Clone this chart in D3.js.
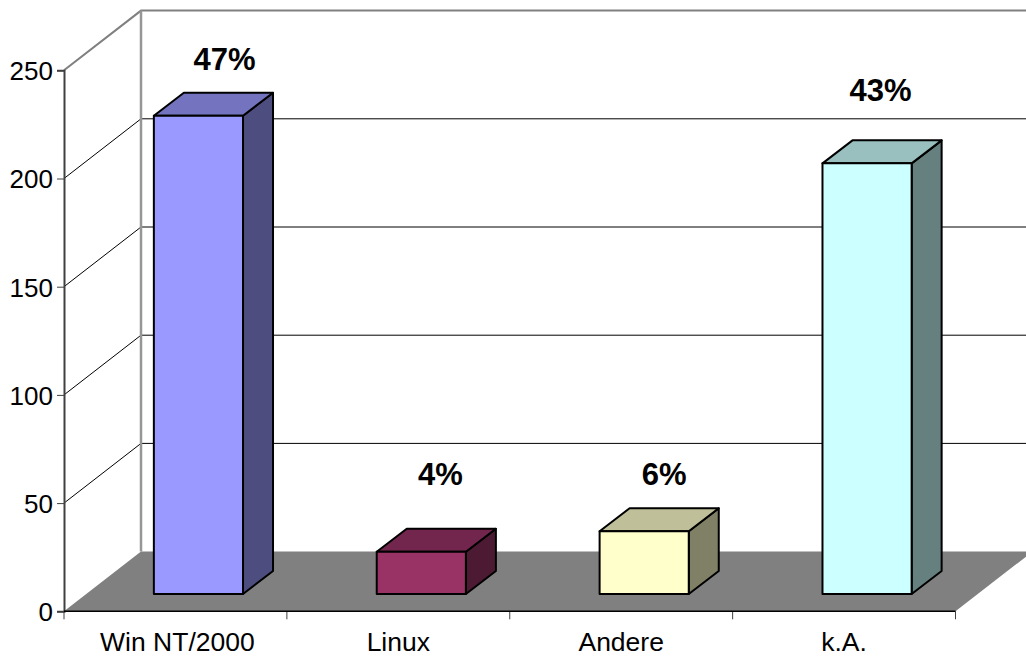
<!DOCTYPE html>
<html><head><meta charset="utf-8">
<script src="https://cdn.jsdelivr.net/npm/d3@7"></script>
<style>html,body{margin:0;padding:0;background:#fff}svg{display:block}text{font-family:"Liberation Sans",Arial,sans-serif;fill:#000}</style>
</head><body><svg id="c" width="1026" height="657"></svg>
<script>
const categories = ["Win NT/2000","Linux","Andere","k.A."];
const values = [221,19.5,29,199];
const percentLabels = ["47%","4%","6%","43%"];
const yTicks = [0,50,100,150,200,250];

const frontColors = ["#9999ff","#993366","#ffffcc","#ccffff"];
const topColors = ["#7373bf","#73264d","#bfbf99","#99bfbf"];
const sideColors = ["#4d4d80","#4d1a33","#808066","#668080"];

const W=1026,H=657;
const svg=d3.select("#c");
const y=d3.scaleLinear().domain([0,250]).range([611.3,70.3]);
const x=d3.scaleBand().domain(categories).range([64,955.5]).paddingInner(0).paddingOuter(0);
const DX=77,DY=-59.7;        // chart depth
const barDX=30,barDY=-23;    // bar depth
const inset=-17.3;           // bars stand part-way into the floor
const insetX=23;
const barW=x.bandwidth()*0.4;
// hand-placed percentage captions, relative to each bar's back top edge
const captionPlacement=[{dx:26,lift:23},{dx:19,lift:44},{dx:20,lift:23},{dx:13.5,lift:39}];
const path=d3.line();
const root=svg.append("g");

// back wall frame
root.append("g").selectAll("line").data(yTicks.slice(1,5)).join("line")
  .attr("x1",64).attr("y1",d=>y(d)).attr("x2",64+DX).attr("y2",d=>y(d)+DY)
  .attr("stroke","#000").attr("stroke-width",1);
root.append("g").selectAll("line").data(yTicks.slice(1,5)).join("line")
  .attr("x1",64+DX).attr("y1",d=>y(d)+DY).attr("x2",W).attr("y2",d=>y(d)+DY)
  .attr("stroke","#000").attr("stroke-width",1);
root.append("path").attr("fill","none").attr("stroke","#808080").attr("stroke-width",2)
  .attr("d",path([[64,y(250)],[64+DX,y(250)+DY],[W,y(250)+DY]]));
root.append("line").attr("x1",64+DX).attr("x2",64+DX).attr("y1",y(250)+DY).attr("y2",y(0)+DY)
  .attr("stroke","#969696").attr("stroke-width",2.5);

// floor
root.append("path").attr("fill","#808080")
  .attr("d",path([[64,y(0)],[64+DX,y(0)+DY],[W,y(0)+DY],[W,y(0)+DY+(955.5+DX-W)*(-DY/DX)],[955.5,y(0)]])+"Z");

// axes
const ya=d3.axisLeft(y).tickValues(yTicks).tickSize(7).tickPadding(4).tickFormat(d3.format("d"));
const gy=root.append("g").attr("transform","translate(64,0)").call(ya);
gy.select(".domain").attr("stroke","#404040").attr("stroke-width",2);
gy.selectAll("line").attr("stroke","#404040").attr("stroke-width",1);
gy.selectAll("text").style("font-size","26px").attr("dy","0.36em").attr("font-family",null);
const boundaries=categories.map(c=>x(c)).concat([955.5]);
const gx=root.append("g");
gx.selectAll("line").data(boundaries).join("line")
  .attr("x1",d=>d).attr("x2",d=>d).attr("y1",y(0)).attr("y2",y(0)+8)
  .attr("stroke","#404040").attr("stroke-width",1);
gx.append("line").attr("x1",64).attr("x2",955.5).attr("y1",y(0)).attr("y2",y(0))
  .attr("stroke","#000").attr("stroke-width",1.5);
gx.selectAll("text").data(categories).join("text")
  .attr("x",d=>x(d)+x.bandwidth()/2+2*(d===categories[0])).attr("y",651.3).attr("text-anchor","middle")
  .style("font-size","26.5px").text(d=>d);

// bars
categories.forEach((c,i)=>{
  const cx=x(c)+x.bandwidth()/2+insetX, l=cx-barW/2, r=cx+barW/2;
  const b=y(0)+inset, t=y(values[i])+inset;
  const g=root.append("g").attr("stroke","#000").attr("stroke-width",2).attr("stroke-linejoin","round");
  g.append("path").attr("fill",sideColors[i]).attr("d",path([[r,t],[r+barDX,t+barDY],[r+barDX,b+barDY],[r,b]])+"Z");
  g.append("path").attr("fill",topColors[i]).attr("d",path([[l,t],[l+barDX,t+barDY],[r+barDX,t+barDY],[r,t]])+"Z");
  g.append("path").attr("fill",frontColors[i]).attr("d",path([[l,t],[r,t],[r,b],[l,b]])+"Z");
  root.append("text").attr("x",cx+captionPlacement[i].dx).attr("y",t+barDY-captionPlacement[i].lift).attr("text-anchor","middle")
    .style("font-size","31px").style("font-weight","bold").text(percentLabels[i]);
});
</script></body></html>
